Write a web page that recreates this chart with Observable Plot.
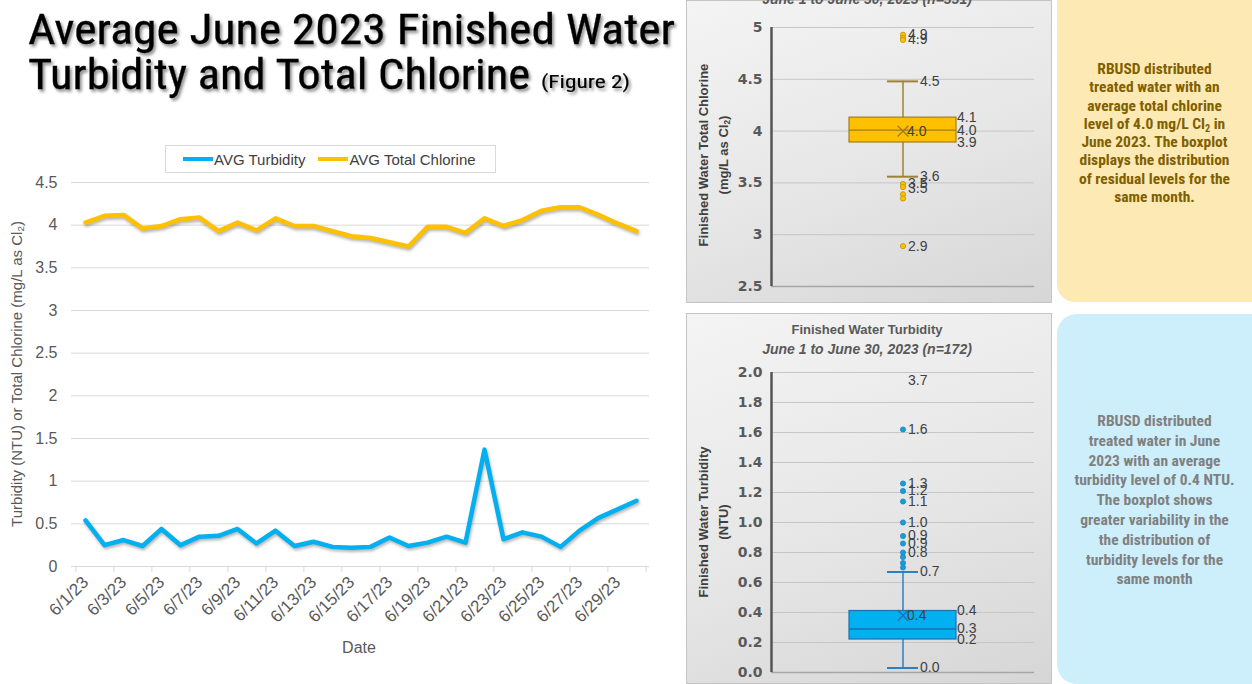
<!DOCTYPE html>
<html><head><meta charset="utf-8">
<script src="https://cdn.jsdelivr.net/npm/d3@7"></script>
<script src="https://cdn.jsdelivr.net/npm/@observablehq/plot@0.6"></script>
<style>
body{margin:0;background:#fff;}
#page{position:relative;width:1252px;height:684px;overflow:hidden;background:#fff;font-family:"Liberation Sans",Arial,sans-serif;}
.abs{position:absolute;}
.rot{position:absolute;transform:rotate(-90deg);text-align:center;white-space:nowrap;}
.panel{position:absolute;overflow:hidden;background:linear-gradient(160deg,#f4f4f4 0%,#e6e6e6 55%,#d6d6d6 100%);box-shadow:inset 0 0 0 1px #c4c4c4;}
.note{position:absolute;text-align:center;font-family:"Liberation Sans Narrow","Roboto Condensed","Liberation Sans",sans-serif;font-weight:bold;font-size:15.5px;}
#legend{position:absolute;left:165px;top:145px;width:329px;height:26px;border:1px solid #d9d9d9;display:flex;align-items:center;font-size:15px;color:#404040;}
.sw{display:inline-block;width:30px;height:4px;margin-right:1px;}
sub{font-size:0.65em;vertical-align:-0.25em;line-height:0;}
</style></head>
<body><div id="page">
<svg class="abs" style="left:0;top:0" width="700" height="110">
<defs><filter id="sh" x="-5%" y="-30%" width="110%" height="160%"><feDropShadow dx="2" dy="2.5" stdDeviation="1.6" flood-color="#000" flood-opacity="0.45"/></filter></defs>
<g font-family="Liberation Sans Narrow, Roboto Condensed, Liberation Sans, sans-serif" fill="#000" stroke="#000" stroke-width="0.3" filter="url(#sh)">
<text x="28" y="44" font-size="43" textLength="647" lengthAdjust="spacingAndGlyphs">Average June 2023 Finished Water</text>
<text x="28" y="89" font-size="43" textLength="502" lengthAdjust="spacingAndGlyphs">Turbidity and Total Chlorine</text>
<text x="541" y="88" font-size="19" stroke-width="0.15" textLength="89" lengthAdjust="spacingAndGlyphs">(Figure 2)</text>
</g></svg>
<div id="legend"><span style="width:17px"></span><span class="sw" style="background:#00b0f0"></span><span>AVG Turbidity</span><span style="width:13px"></span><span class="sw" style="background:#ffc000"></span><span>AVG Total Chlorine</span></div>
<div id="lineChart" class="abs" style="left:0;top:172px"></div>
<div class="rot" style="left:-182px;top:364px;width:400px;height:20px;font-size:15px;color:#595959;">Turbidity (NTU) or Total Chlorine (mg/L as Cl<sub>2</sub>)</div>
<div class="abs" style="left:300px;top:639px;width:118px;text-align:center;font-size:16px;color:#595959;">Date</div>

<div id="clPanel" class="panel" style="left:686px;top:0;width:366px;height:303px;">
  <div class="abs" style="left:0;top:-9px;width:362px;text-align:center;font-size:14px;font-style:italic;font-weight:bold;color:#595959;">June 1 to June 30, 2023 (n=351)</div>
  <div id="clChart" class="abs" style="left:0;top:0"></div>
  <div class="rot" style="left:-92px;top:135px;width:240px;height:40px;line-height:20px;font-size:13px;font-weight:bold;color:#404040;">Finished Water Total Chlorine<br>(mg/L as Cl<sub>2</sub>)</div>
</div>
<div id="tbPanel" class="panel" style="left:686px;top:313px;width:366px;height:371px;">
  <div class="abs" style="left:0;top:9px;width:362px;text-align:center;font-size:13px;font-weight:bold;color:#595959;">Finished Water Turbidity</div>
  <div class="abs" style="left:0;top:28px;width:362px;text-align:center;font-size:14px;font-style:italic;font-weight:bold;color:#595959;">June 1 to June 30, 2023 (n=172)</div>
  <div id="tbChart" class="abs" style="left:0;top:0"></div>
  <div class="rot" style="left:-92px;top:189px;width:240px;height:40px;line-height:20px;font-size:13px;font-weight:bold;color:#404040;">Finished Water Turbidity<br>(NTU)</div>
</div>

<div class="abs" style="left:1057px;top:0;width:195px;height:302px;background:#fde9b4;border-radius:0 0 0 18px;"></div>
<div class="note" style="left:1057px;top:60px;width:195px;line-height:18.3px;color:#7f6000;">RBUSD distributed<br>treated water with an<br>average total chlorine<br>level of 4.0 mg/L Cl<sub>2</sub> in<br>June 2023. The boxplot<br>displays the distribution<br>of residual levels for the<br>same month.</div>
<div class="abs" style="left:1057px;top:314px;width:195px;height:370px;background:#cdeefb;border-radius:20px 0 0 20px;"></div>
<div class="note" style="left:1057px;top:412px;width:195px;line-height:19.8px;color:#808080;">RBUSD distributed<br>treated water in June<br>2023 with an average<br>turbidity level of 0.4 NTU.<br>The boxplot shows<br>greater variability in the<br>the distribution of<br>turbidity levels for the<br>same month</div>
</div>
<script>
// ---- Line chart data ----
const dates = ["6/1/23","6/2/23","6/3/23","6/4/23","6/5/23","6/6/23","6/7/23","6/8/23","6/9/23","6/10/23",
  "6/11/23","6/12/23","6/13/23","6/14/23","6/15/23","6/16/23","6/17/23","6/18/23","6/19/23","6/20/23",
  "6/21/23","6/22/23","6/23/23","6/24/23","6/25/23","6/26/23","6/27/23","6/28/23","6/29/23","6/30/23"];
const turbidity = [0.54,0.25,0.31,0.24,0.44,0.25,0.35,0.36,0.44,0.27,0.42,0.24,0.29,0.23,0.22,0.23,0.34,0.24,0.28,0.35,0.28,1.37,0.32,0.40,0.35,0.23,0.42,0.57,0.67,0.77];
const chlorine = [4.03,4.11,4.12,3.96,3.99,4.07,4.09,3.93,4.03,3.94,4.08,3.99,3.99,3.93,3.87,3.85,3.80,3.75,3.98,3.98,3.91,4.08,3.99,4.06,4.17,4.21,4.21,4.12,4.02,3.93];
const seriesNames = ["AVG Turbidity","AVG Total Chlorine"];
const seriesColors = ["#00b0f0","#ffc000"];
const lineYTicks = [0,0.5,1,1.5,2,2.5,3,3.5,4,4.5];

// ---- Chlorine boxplot data ----
const chlorineName = "Total Chlorine";
const chlorineWhiskers = [3.56, 4.48];      // lower, upper whisker
const chlorineBox = [3.89, 4.01, 4.13];     // q1, median, q3
const chlorineMean = [4.00];
const chlorineOutliers = [4.93, 4.90, 4.88, 3.49, 3.46, 3.39, 3.35, 2.89];
const chlorineOutlierLabels = [4.93, 4.88, 3.49, 3.45, 2.89];
const chlorineYTicks = [2.5, 3, 3.5, 4, 4.5, 5];

// ---- Turbidity boxplot data ----
const turbName = "Turbidity";
const turbWhiskers = [0.03, 0.67];
const turbBox = [0.22, 0.29, 0.41];
const turbMean = [0.38];
const turbOutliers = [3.7, 1.62, 1.26, 1.21, 1.14, 1.00, 0.91, 0.86, 0.80, 0.77, 0.73, 0.70];
const turbOutlierLabels = [3.7, 1.62, 1.26, 1.21, 1.14, 1.00, 0.91, 0.86, 0.80];
const turbYTicks = [0, 0.2, 0.4, 0.6, 0.8, 1.0, 1.2, 1.4, 1.6, 1.8, 2.0];

// ---- Line chart ----
const rows = dates.flatMap((d, i) => [
  {date: d, series: seriesNames[0], value: turbidity[i]},
  {date: d, series: seriesNames[1], value: chlorine[i]}
]);
const W = 660, H = 500, mL = 71, mR = 11, mT = 10, mB = 106;
const step = (W - mL - mR) / dates.length;
const labelDates = dates.filter((d, i) => i % 2 === 0);
const lineChart = Plot.plot({
  width: W, height: H, marginLeft: mL, marginRight: mR, marginTop: mT, marginBottom: mB,
  style: {background: "transparent", fontFamily: "Liberation Sans, Arial, sans-serif", overflow: "visible"},
  x: {type: "point", domain: dates, padding: 0.5},
  y: {domain: [0, 4.5]},
  color: {domain: seriesNames, range: seriesColors},
  marks: [
    Plot.gridY(lineYTicks, {stroke: "#d9d9d9", strokeOpacity: 1}),
    Plot.axisY(lineYTicks, {tickSize: 0, tickPadding: 14, tickFormat: d => String(d), fontSize: 16, fill: "#595959", label: null}),
    Plot.axisX(labelDates, {tickSize: 0, tickPadding: 13, tickRotate: -45, fontSize: 17, fill: "#595959", label: null}),
    Plot.axisX(labelDates, {tickSize: 6, tickFormat: () => "", dx: -step / 2, stroke: "#d9d9d9", label: null}),
    Plot.axisX([dates[dates.length - 1]], {tickSize: 6, tickFormat: () => "", dx: step / 2, stroke: "#d9d9d9", label: null}),
    Plot.line(rows, {x: "date", y: "value", z: "series", stroke: "series", strokeWidth: 4.5})
  ]
});
d3.select(lineChart).selectAll('g[aria-label="line"] path').style("filter", "drop-shadow(1px 2px 1.5px rgba(0,0,0,0.3))");
document.getElementById("lineChart").append(lineChart);

// ---- Boxplot builder ----
function boxPlot(o) {
  const width = 366, mLeft = 85, mRight = 18;
  const bw = width - mLeft - mRight;
  const nm = () => o.name;
  const ymax = o.yDomain[1];
  const font = {fontSize: 14, fill: "#404040", textAnchor: "start", fontFamily: "Liberation Sans, Arial, sans-serif"};
  return Plot.plot({
    width, height: o.height, marginLeft: mLeft, marginRight: mRight, marginTop: o.marginTop, marginBottom: o.marginBottom,
    style: {background: "transparent", overflow: "visible"},
    x: {type: "band", domain: [o.name], padding: 0, axis: null},
    y: {domain: o.yDomain},
    marks: [
      Plot.gridY(o.yTicks.slice(1), {stroke: "#c6c6c6", strokeOpacity: 1}),
      Plot.ruleY([o.yDomain[0]], {stroke: "#a6a6a6", strokeWidth: 1.5}),
      Plot.axisY(o.yTicks, {tickSize: 0, tickPadding: 9, tickFormat: o.fmt, fontSize: 14, fontWeight: "bold", fill: "#595959", fontFamily: "DejaVu Sans, sans-serif", label: null}),
      Plot.ruleX([o.name], {x: d => d, y1: o.yDomain[0], y2: ymax, dx: -bw / 2, stroke: "#555", strokeWidth: 2.5}),
      Plot.ruleX([o.name], {x: d => d, y1: o.whiskers[0], y2: o.box[0], stroke: o.whisker, strokeWidth: 1.5}),
      Plot.ruleX([o.name], {x: d => d, y1: o.box[2], y2: o.whiskers[1], stroke: o.whisker, strokeWidth: 1.5}),
      Plot.tickY(o.whiskers, {x: nm, y: d => d, insetLeft: 116, insetRight: 116, stroke: o.whisker, strokeWidth: 2}),
      Plot.barY([o.name], {x: d => d, y1: o.box[0], y2: o.box[2], fill: o.fill, stroke: o.stroke, strokeWidth: 1.2, insetLeft: 78, insetRight: 78}),
      Plot.tickY([o.box[1]], {x: nm, y: d => d, insetLeft: 78, insetRight: 78, stroke: o.stroke, strokeWidth: 1.3}),
      Plot.dot(o.mean, {x: nm, y: d => d, symbol: "times", r: 5, stroke: o.stroke, strokeWidth: 1.3}),
      Plot.dot(o.outliers.filter(v => v <= ymax), {x: nm, y: d => d, r: 2.6, fill: o.dotFill, stroke: o.dotStroke, strokeWidth: 0.8}),
      Plot.text(o.outlierLabels.filter(v => v <= ymax), {x: nm, y: d => d, text: d => d.toFixed(1), dx: 5, ...font}),
      Plot.text(o.outlierLabels.filter(v => v > ymax), {x: nm, y: () => ymax, text: d => d.toFixed(1), dx: 5, dy: 8, ...font}),
      Plot.text(o.whiskers, {x: nm, y: d => d, text: d => d.toFixed(1), dx: 17, ...font}),
      Plot.text(o.box, {x: nm, y: d => d, text: d => d.toFixed(1), dx: 54, ...font}),
      Plot.text(o.mean, {x: nm, y: d => d, text: d => d.toFixed(1), dx: 4, ...font})
    ]
  });
}

document.getElementById("clChart").append(boxPlot({
  name: chlorineName, height: 300, marginTop: 27, marginBottom: 14,
  yDomain: [2.5, 5], yTicks: chlorineYTicks, fmt: d => String(d),
  whiskers: chlorineWhiskers, box: chlorineBox, mean: chlorineMean,
  outliers: chlorineOutliers, outlierLabels: chlorineOutlierLabels,
  fill: "#ffc000", stroke: "#a07d1c", whisker: "#9c8334", dotFill: "#ffc000", dotStroke: "#bf9000"
}));
document.getElementById("tbChart").append(boxPlot({
  name: turbName, height: 371, marginTop: 59, marginBottom: 12,
  yDomain: [0, 2.0], yTicks: turbYTicks, fmt: d3.format(".1f"),
  whiskers: turbWhiskers, box: turbBox, mean: turbMean,
  outliers: turbOutliers, outlierLabels: turbOutlierLabels,
  fill: "#00b0f0", stroke: "#1f6fb0", whisker: "#2f7fc0", dotFill: "#1a9ad6", dotStroke: "#1a8ac6"
}));
</script>
</body></html>
